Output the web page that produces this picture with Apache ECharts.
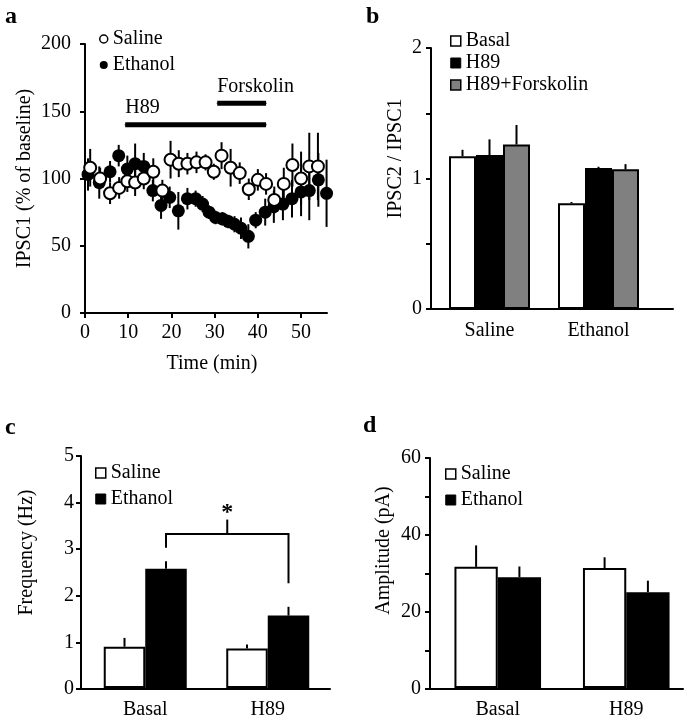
<!DOCTYPE html>
<html><head><meta charset="utf-8">
<script src="https://cdn.jsdelivr.net/npm/echarts@6/dist/echarts.min.js"></script>
<style>html,body{margin:0;padding:0;background:#fff}#c{width:694px;height:720px}</style>
</head><body><div id="c"></div><script>
// ---------- Panel a data ----------
const timeTicks = [0, 10, 20, 30, 40, 50];
const salineTime = [1.2, 3.5, 5.8, 7.9, 9.8, 11.6, 13.6, 15.8, 17.9, 19.8, 21.7, 23.7, 25.8, 27.9, 29.8, 31.6, 33.7, 35.8, 37.9, 40.0, 41.9, 43.8, 46.0, 48.0, 50.0, 51.9, 53.9];
const salineMean = [108, 100, 89, 93, 98, 97, 100, 105, 91, 114, 111, 111, 112, 112, 105, 117, 108, 104, 92, 99, 96, 84, 96, 110, 100, 109, 109];
const salineErr  = [14, 8, 8, 8, 8, 10, 8, 10, 8, 14, 10, 8, 8, 6, 6, 10, 14, 8, 8, 8, 8, 10, 12, 16, 20, 25, 25];
const ethanolTime = [0.7, 3.3, 5.8, 7.8, 9.8, 11.6, 13.6, 15.7, 17.6, 19.6, 21.6, 23.7, 25.6, 27.2, 28.7, 30.2, 31.8, 33.2, 34.6, 36.1, 37.8, 39.5, 41.7, 43.7, 45.8, 47.9, 50.0, 51.9, 54.0, 55.9];
const ethanolMean = [103, 97, 105, 117, 107, 111, 109, 91, 80, 86, 76, 85, 85, 81, 75, 71, 70, 68, 66, 63, 57, 69, 75, 79, 81, 85, 90, 91, 99, 89];
const ethanolErr  = [12, 12, 8, 8, 10, 15, 10, 8, 10, 8, 14, 8, 6, 6, 5, 5, 5, 5, 6, 8, 9, 6, 10, 12, 12, 14, 18, 22, 20, 25];
const h89Period = [9.3, 41.9];
const h89Level = 140;
const forskolinPeriod = [30.6, 41.9];
const forskolinLevel = 156;

// ---------- Panel b data ----------
const bGroups = ['Saline', 'Ethanol'];
const bBasal = [1.17, 0.81];
const bBasalErr = [0.05, 0.01];
const bH89 = [1.18, 1.08];
const bH89Err = [0.12, 0.01];
const bForsk = [1.26, 1.07];
const bForskErr = [0.15, 0.04];

// ---------- Panel c data ----------
const cGroups = ['Basal', 'H89'];
const cSaline = [0.89, 0.85];
const cSalineErr = [0.19, 0.09];
const cEthanol = [2.57, 1.56];
const cEthanolErr = [0.16, 0.19];
const cBracket = [3.02, 3.32, 2.26];   // left foot, top, right foot
const cBracketPeak = 3.63;

// ---------- Panel d data ----------
const dGroups = ['Basal', 'H89'];
const dSaline = [31.6, 31.3];
const dSalineErr = [5.6, 2.8];
const dEthanol = [28.9, 25.0];
const dEthanolErr = [2.8, 3.0];

// ---------- styling ----------
const FONT = '"Liberation Serif", "Times New Roman", serif';
const BLK = '#000';
const txt = {fontFamily: FONT, fontSize: 20, color: BLK};
const axLine = {show: true, lineStyle: {color: BLK, width: 2}};
const bwB = 27, bwC = 41.5, bwD = 43.3;

function pointErr(xi, yi, ts, ms, es, z) {
  return {
    type: 'custom', xAxisIndex: xi, yAxisIndex: yi, z: z, silent: true,
    encode: {x: 0, y: 1},
    data: ts.map((t, i) => [t, ms[i], es[i]]),
    renderItem: (p, api) => {
      const t = api.value(0), v = api.value(1), e = api.value(2);
      const a = api.coord([t, v - e]), b = api.coord([t, v + e]);
      return {type: 'line', shape: {x1: a[0], y1: a[1], x2: b[0], y2: b[1]}, style: {stroke: BLK, lineWidth: 2}};
    }
  };
}
function barErr(xi, yi, vals, errs, offset) {
  return {
    type: 'custom', xAxisIndex: xi, yAxisIndex: yi, z: 5, silent: true,
    encode: {x: 0, y: 1},
    data: vals.map((v, i) => [i, v, errs[i]]),
    renderItem: (p, api) => {
      const c = api.value(0), v = api.value(1), e = api.value(2);
      const a = api.coord([c, v]), b = api.coord([c, v + e]);
      const x = a[0] + offset;
      return {type: 'line', shape: {x1: x, y1: a[1], x2: x, y2: b[1]}, style: {stroke: BLK, lineWidth: 2}};
    }
  };
}
function bar(name, xi, yi, vals, color, bw) {
  return {
    name: name, type: 'bar', xAxisIndex: xi, yAxisIndex: yi, data: vals, barWidth: bw, barGap: '0%',
    itemStyle: {color: color, borderColor: BLK, borderWidth: 2}, silent: true, animation: false
  };
}
function lineOnlyX(gi) {
  return {type: 'value', gridIndex: gi, min: 0, max: 1, axisLine: axLine, axisTick: {show: false}, axisLabel: {show: false}, splitLine: {show: false}};
}
function catX(gi, cats) {
  return {type: 'category', gridIndex: gi, data: cats, axisLine: {show: false}, axisTick: {show: false},
          axisLabel: Object.assign({margin: 12}, txt), splitLine: {show: false}};
}
function hiddenY(gi, max) {
  return {type: 'value', gridIndex: gi, min: 0, max: max, show: false, splitLine: {show: false}};
}

const chart = echarts.init(document.getElementById('c'), null, {renderer: 'canvas'});
const option = {
  animation: false,
  backgroundColor: '#fff',
  grid: [
    {left: 85, top: 44, width: 242, height: 269},     // a
    {left: 431, top: 48, width: 242, height: 261},    // b axes
    {left: 435, top: 48, width: 218, height: 261},    // b bars
    {left: 81, top: 456, width: 249, height: 233},    // c axes
    {left: 84, top: 456, width: 245, height: 233},    // c bars
    {left: 430, top: 458, width: 253, height: 231},   // d axes
    {left: 433.5, top: 458, width: 257, height: 231}  // d bars
  ],
  xAxis: [
    {type: 'value', gridIndex: 0, min: 0, max: 56, axisLine: axLine,
     axisTick: {show: true, length: 5, lineStyle: {color: BLK, width: 2}, customValues: timeTicks},
     axisLabel: Object.assign({margin: 10, customValues: timeTicks}, txt), splitLine: {show: false},
     name: 'Time (min)', nameLocation: 'middle', nameGap: 41, nameTextStyle: Object.assign({padding: [0, 0, 0, 12]}, txt)},
    lineOnlyX(1), catX(2, bGroups),
    lineOnlyX(3), catX(4, cGroups),
    lineOnlyX(5), catX(6, dGroups)
  ],
  yAxis: [
    {type: 'value', gridIndex: 0, min: 0, max: 200, interval: 50, axisLine: axLine,
     axisTick: {show: true, length: 5, lineStyle: {color: BLK, width: 2}},
     axisLabel: Object.assign({margin: 14}, txt), splitLine: {show: false},
     name: 'IPSC1 (% of baseline)', nameLocation: 'middle', nameGap: 50, nameTextStyle: txt},
    {type: 'value', gridIndex: 1, min: 0, max: 2, interval: 0.5, axisLine: axLine,
     axisTick: {show: true, length: 5, lineStyle: {color: BLK, width: 2}},
     axisLabel: Object.assign({margin: 9, formatter: v => Number.isInteger(v) ? String(v) : ''}, txt), splitLine: {show: false},
     name: 'IPSC2 / IPSC1', nameLocation: 'middle', nameGap: 25, nameTextStyle: Object.assign({padding: [0, 0, 0, 40]}, txt)},
    hiddenY(2, 2),
    {type: 'value', gridIndex: 3, min: 0, max: 5, interval: 1, axisLine: axLine,
     axisTick: {show: true, length: 5, lineStyle: {color: BLK, width: 2}},
     axisLabel: Object.assign({margin: 7}, txt), splitLine: {show: false},
     name: 'Frequency (Hz)', nameLocation: 'middle', nameGap: 44, nameTextStyle: Object.assign({padding: [0, 0, 0, 40]}, txt)},
    hiddenY(4, 5),
    {type: 'value', gridIndex: 5, min: 0, max: 60, interval: 10, axisLine: axLine,
     axisTick: {show: true, length: 5, lineStyle: {color: BLK, width: 2}},
     axisLabel: Object.assign({margin: 9, formatter: v => (v % 20 === 0 ? String(v) : '')}, txt), splitLine: {show: false},
     name: 'Amplitude (pA)', nameLocation: 'middle', nameGap: 36, nameTextStyle: Object.assign({padding: [0, 0, 0, 46]}, txt)},
    hiddenY(6, 60)
  ],
  legend: [
    {orient: 'vertical', left: 94, top: 24, itemGap: 6, itemWidth: 8, itemHeight: 8, textStyle: txt, selectedMode: false,
     data: [
       {name: 'Saline', icon: 'circle', itemStyle: {color: '#fff', borderColor: BLK, borderWidth: 1.5}},
       {name: 'Ethanol', icon: 'circle', itemStyle: {color: BLK, borderColor: BLK, borderWidth: 0}}
     ]},
    {orient: 'vertical', left: 445, top: 26, itemGap: 2, itemWidth: 10, itemHeight: 10, textStyle: txt, selectedMode: false,
     data: [
       {name: 'Basal', icon: 'rect', itemStyle: {color: '#fff', borderColor: BLK, borderWidth: 1.5}},
       {name: 'H89', icon: 'rect', itemStyle: {color: BLK, borderColor: BLK, borderWidth: 1}},
       {name: 'H89+Forskolin', icon: 'rect', itemStyle: {color: '#808080', borderColor: BLK, borderWidth: 1.5}}
     ]},
    {orient: 'vertical', left: 90, top: 458, itemGap: 6, itemWidth: 10, itemHeight: 10, textStyle: txt, selectedMode: false,
     data: [
       {name: 'Saline', icon: 'rect', itemStyle: {color: '#fff', borderColor: BLK, borderWidth: 1.5}},
       {name: 'Ethanol', icon: 'rect', itemStyle: {color: BLK, borderColor: BLK, borderWidth: 1}}
     ]},
    {orient: 'vertical', left: 440, top: 459, itemGap: 6, itemWidth: 10, itemHeight: 10, textStyle: txt, selectedMode: false,
     data: [
       {name: 'Saline', icon: 'rect', itemStyle: {color: '#fff', borderColor: BLK, borderWidth: 1.5}},
       {name: 'Ethanol', icon: 'rect', itemStyle: {color: BLK, borderColor: BLK, borderWidth: 1}}
     ]}
  ],
  graphic: [
    {type: 'text', left: 5, top: 5, style: {text: 'a', font: 'bold 24px ' + FONT, fill: BLK}},
    {type: 'text', left: 366, top: 5, style: {text: 'b', font: 'bold 24px ' + FONT, fill: BLK}},
    {type: 'text', left: 5, top: 416, style: {text: 'c', font: 'bold 24px ' + FONT, fill: BLK}},
    {type: 'text', left: 363, top: 414, style: {text: 'd', font: 'bold 24px ' + FONT, fill: BLK}}
  ],
  series: [
    // ---- panel a ----
    pointErr(0, 0, ethanolTime, ethanolMean, ethanolErr, 2),
    {name: 'Ethanol', type: 'scatter', xAxisIndex: 0, yAxisIndex: 0, z: 3, symbol: 'circle', symbolSize: 13,
     itemStyle: {color: BLK, opacity: 1}, data: ethanolTime.map((t, i) => [t, ethanolMean[i]])},
    pointErr(0, 0, salineTime, salineMean, salineErr, 4),
    {name: 'Saline', type: 'scatter', xAxisIndex: 0, yAxisIndex: 0, z: 5, symbol: 'circle', symbolSize: 12,
     itemStyle: {color: '#fff', borderColor: BLK, borderWidth: 2, opacity: 1}, data: salineTime.map((t, i) => [t, salineMean[i]])},
    {name: 'H89 period', type: 'line', xAxisIndex: 0, yAxisIndex: 0, z: 6, symbol: 'rect', symbolSize: 1,
     lineStyle: {color: BLK, width: 5}, itemStyle: {color: BLK},
     data: [{value: [h89Period[0], h89Level], label: {show: true, formatter: 'H89', position: 'top', align: 'left', distance: 6, ...txt}},
            [h89Period[1], h89Level]]},
    {name: 'Forskolin period', type: 'line', xAxisIndex: 0, yAxisIndex: 0, z: 6, symbol: 'rect', symbolSize: 1,
     lineStyle: {color: BLK, width: 5}, itemStyle: {color: BLK},
     data: [{value: [forskolinPeriod[0], forskolinLevel], label: {show: true, formatter: 'Forskolin', position: 'top', align: 'left', distance: 6, ...txt}},
            [forskolinPeriod[1], forskolinLevel]]},
    // ---- panel b ----
    bar('Basal', 2, 2, bBasal, '#fff', bwB),
    bar('H89', 2, 2, bH89, BLK, bwB),
    bar('H89+Forskolin', 2, 2, bForsk, '#808080', bwB),
    barErr(2, 2, bBasal, bBasalErr, -bwB),
    barErr(2, 2, bH89, bH89Err, 0),
    barErr(2, 2, bForsk, bForskErr, bwB),
    // ---- panel c ----
    bar('Saline', 4, 4, cSaline, '#fff', bwC),
    bar('Ethanol', 4, 4, cEthanol, BLK, bwC),
    barErr(4, 4, cSaline, cSalineErr, -bwC / 2),
    barErr(4, 4, cEthanol, cEthanolErr, bwC / 2),
    {type: 'custom', xAxisIndex: 4, yAxisIndex: 4, z: 6, silent: true, encode: {x: 0, y: 1},
     data: [[0, cBracket[0], cBracket[1], cBracket[2], cBracketPeak]],
     renderItem: (p, api) => {
       const L = api.coord([0, api.value(1)]), T = api.coord([0, api.value(2)]);
       const R = api.coord([1, api.value(3)]), P = api.coord([0, api.value(4)]);
       const xl = L[0] + bwC / 2, xr = R[0] + bwC / 2, xm = (xl + xr) / 2;
       return {type: 'group', children: [
         {type: 'polyline', shape: {points: [[xl, L[1]], [xl, T[1]], [xr, T[1]], [xr, R[1]]]}, style: {stroke: BLK, lineWidth: 2, fill: null}},
         {type: 'line', shape: {x1: xm, y1: T[1], x2: xm, y2: P[1]}, style: {stroke: BLK, lineWidth: 2}},
         {type: 'text', x: xm, y: P[1] + 5, style: {text: '*', font: 'bold 24px ' + FONT, fill: BLK, align: 'center', verticalAlign: 'bottom'}}
       ]};
     }},
    // ---- panel d ----
    bar('Saline', 6, 6, dSaline, '#fff', bwD),
    bar('Ethanol', 6, 6, dEthanol, BLK, bwD),
    barErr(6, 6, dSaline, dSalineErr, -bwD / 2),
    barErr(6, 6, dEthanol, dEthanolErr, bwD / 2)
  ]
};
chart.setOption(option);
</script></body></html>
